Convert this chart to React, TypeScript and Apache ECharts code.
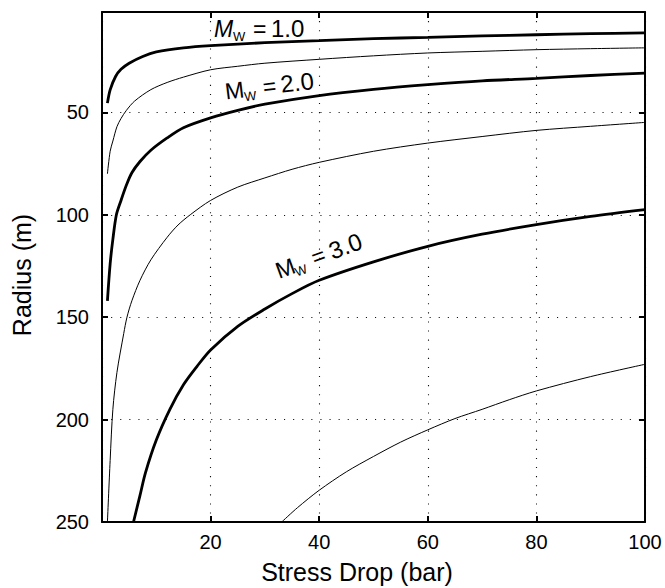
import React, { useEffect, useRef } from "react";
import * as echarts from "echarts";

// Axis ranges and tick labels
const xRange = [0, 100];
const yRange = [1, 250];
const xTickLabels = [20, 40, 60, 80, 100];
const yTickLabels = [50, 100, 150, 200, 250];

// Curves: [stress drop (bar), radius (m)]
const mw10 = [[1, 45.5], [1.5, 39], [2.5, 32.5], [3.5, 29], [5, 26], [7.5, 22.7], [10, 20.5], [15, 18.5], [20, 17.4], [30, 16], [40, 15], [50, 14], [60, 13.4], [70, 12.7], [80, 12.1], [90, 11.6], [100, 11.2]];
const mw15 = [[1, 80], [1.5, 69], [2, 64], [2.75, 57], [3.5, 53], [4.5, 49], [6, 44.5], [9, 38.9], [12, 35.4], [15, 32.8], [20, 29.2], [25, 27.5], [30, 26], [40, 24.1], [50, 22.4], [60, 21], [70, 20.2], [80, 19.4], [90, 18.9], [100, 18.5]];
const mw20 = [[1, 142], [1.5, 124], [2, 112], [2.65, 100], [3.5, 93], [4.5, 85.5], [5.5, 79.5], [7, 74], [9, 68.5], [12, 62.5], [15, 57.5], [20, 52.7], [25, 49], [30, 46], [40, 41.8], [50, 38.8], [60, 36.5], [70, 34.6], [80, 33.4], [90, 32], [100, 30.8]];
const mw25 = [[1, 250], [1.5, 220], [2, 195], [2.75, 177], [4, 158], [4.6, 150], [5.5, 142], [7, 132], [9, 122], [12, 111], [14, 105], [16.25, 100], [20, 93], [25, 86.5], [30, 82], [35, 77.8], [40, 74.4], [50, 69], [60, 65], [70, 61.8], [80, 58.8], [90, 56.8], [100, 54.9]];
const mw30 = [[5.8, 250], [7, 237], [8, 226], [10, 210], [12.5, 195], [15, 183], [17.5, 174], [20, 166], [25, 154.5], [30, 146], [35, 138.5], [40, 132], [50, 123], [60, 115.4], [70, 109.5], [80, 104.8], [90, 100.8], [100, 97.5]];
const mw35 = [[33.1, 250], [36, 243], [40, 234.5], [45, 225.5], [50, 218], [55, 211], [60, 205], [65, 199.5], [70, 195], [75, 190.3], [80, 186], [90, 179], [100, 173]];

const curveLabels = ["1.0", "2.0", "3.0"];
const xTitle = "Stress Drop (bar)";
const yTitle = "Radius (m)";

const FAM = '"Liberation Sans", Arial, Helvetica, sans-serif';

function mwLabel(x: number, y: number, rotDeg: number, italic: boolean, value: string, mFs: number, numFs: number, offW: number, offEq: number, offNum: number) {
  const c = (fs: number) => -0.3465 * fs;
  const st = (text: string, font: string) => ({ text, font, fill: "#000", align: "left", verticalAlign: "middle", textAlign: "left", textVerticalAlign: "middle" });
  return {
    type: "group",
    x,
    y,
    rotation: (rotDeg * Math.PI) / 180,
    silent: true,
    children: [
      { type: "text", x: 0, y: c(mFs), style: st("M", `${italic ? "italic " : ""}${mFs}px ${FAM}`) },
      { type: "text", x: offW, y: 4 + c(13), style: st("W", `13px ${FAM}`) },
      { type: "text", x: offEq, y: c(mFs), style: st("=", `${mFs}px ${FAM}`) },
      { type: "text", x: offNum, y: c(numFs), style: st(value, `${numFs}px ${FAM}`) },
    ],
  };
}

export default function App() {
  const ref = useRef<HTMLDivElement>(null);
  useEffect(() => {
    const chart = echarts.init(ref.current!, null, { renderer: "svg" });
    const axisLine = { show: true, onZero: false, lineStyle: { color: "#000", width: 2 } };
    const axisTick = { show: true, inside: true, length: 6, lineStyle: { color: "#000", width: 2 } };
    const split = { show: true, lineStyle: { color: "#111", width: 1.1, type: [1.1, 8] } };
    const xBase = { type: "value", min: xRange[0], max: xRange[1], splitNumber: 5 };
    const yBase = { type: "value", min: yRange[0], max: yRange[1], inverse: true, splitNumber: 5 };
    const line = (name: string, data: number[][], w: number) => ({
      name,
      type: "line",
      data,
      showSymbol: false,
      symbol: "none",
      smooth: 0.3,
      clip: true,
      lineStyle: { color: "#000", width: w },
      z: 3,
    });
    chart.setOption({
      animation: false,
      backgroundColor: "#fff",
      grid: { left: 102, right: 20, top: 12, bottom: 66, show: false, containLabel: false },
      xAxis: [
        {
          ...xBase,
          position: "bottom",
          axisLine,
          axisTick,
          axisLabel: {
            show: true,
            color: "#000",
            fontSize: 20,
            fontFamily: FAM,
            margin: 10,
            showMinLabel: false,
            formatter: (v: number) => (xTickLabels.includes(v) ? String(v) : ""),
          },
          splitLine: split,
        },
        { ...xBase, position: "top", axisLine, axisTick, axisLabel: { show: false }, splitLine: { show: false } },
      ],
      yAxis: [
        {
          ...yBase,
          position: "left",
          axisLine,
          axisTick,
          axisLabel: {
            show: true,
            color: "#000",
            fontSize: 20,
            fontFamily: FAM,
            margin: 13,
            showMinLabel: false,
            formatter: (v: number) => (yTickLabels.includes(v) ? String(v) : ""),
          },
          splitLine: split,
        },
        { ...yBase, position: "right", axisLine, axisTick, axisLabel: { show: false }, splitLine: { show: false } },
      ],
      series: [
        line("Mw 1.0", mw10, 2.8),
        line("Mw 1.5", mw15, 1),
        line("Mw 2.0", mw20, 2.8),
        line("Mw 2.5", mw25, 1),
        line("Mw 3.0", mw30, 2.8),
        line("Mw 3.5", mw35, 1),
      ],
      graphic: [
        {
          type: "text",
          x: 357,
          y: 572,
          silent: true,
          style: { text: xTitle, font: `25px ${FAM}`, fill: "#000", align: "center", verticalAlign: "middle", textAlign: "center", textVerticalAlign: "middle" },
        },
        {
          type: "text",
          x: 21.5,
          y: 275,
          rotation: Math.PI / 2,
          silent: true,
          style: { text: yTitle, font: `25px ${FAM}`, fill: "#000", align: "center", verticalAlign: "middle", textAlign: "center", textVerticalAlign: "middle" },
        },
        mwLabel(214, 37, 0, true, curveLabels[0], 23, 24, 19, 39, 57),
        mwLabel(226, 99.5, 7, false, curveLabels[1], 23, 24, 18.5, 38, 56),
        mwLabel(279, 279, 20, false, curveLabels[2], 23, 24, 17.5, 38, 57),
      ],
    });
    return () => chart.dispose();
  }, []);
  return <div ref={ref} style={{ position: "absolute", left: 0, top: 0, width: 665, height: 588 }} />;
}
